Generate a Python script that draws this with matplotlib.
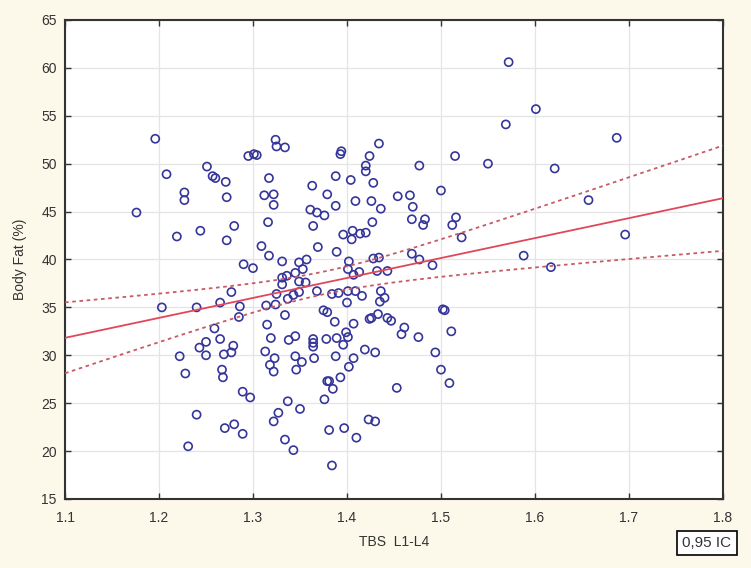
import numpy as np
import matplotlib
matplotlib.use("Agg")
import matplotlib.pyplot as plt

plt.rcParams['font.family'] = ['Liberation Sans', 'DejaVu Sans']

# TBS L1-L4 vs body fat
tbs = [
    1.196, 1.208, 1.176, 1.227, 1.227, 1.219, 1.244, 1.251, 1.257, 1.260,
    1.271, 1.272, 1.280, 1.272, 1.295, 1.301, 1.304, 1.324, 1.325, 1.334,
    1.317, 1.312, 1.322, 1.322, 1.316, 1.363, 1.361, 1.368, 1.364, 1.309,
    1.317, 1.331, 1.349, 1.357, 1.290, 1.300, 1.369, 1.572, 1.601, 1.569,
    1.621, 1.550, 1.515, 1.477, 1.500, 1.434, 1.424, 1.394, 1.393, 1.420,
    1.420, 1.388, 1.404, 1.428, 1.379, 1.388, 1.409, 1.426, 1.436, 1.454,
    1.467, 1.470, 1.376, 1.427, 1.396, 1.406, 1.405, 1.414, 1.420, 1.389,
    1.469, 1.483, 1.481, 1.516, 1.512, 1.522, 1.402, 1.428, 1.434, 1.469,
    1.477, 1.491, 1.588, 1.617, 1.687, 1.657, 1.696, 1.203, 1.240, 1.265,
    1.277, 1.286, 1.285, 1.259, 1.250, 1.265, 1.243, 1.222, 1.250, 1.269,
    1.277, 1.279, 1.228, 1.267, 1.268, 1.289, 1.297, 1.240, 1.270, 1.280,
    1.289, 1.231, 1.314, 1.325, 1.324, 1.337, 1.343, 1.349, 1.334, 1.315,
    1.319, 1.338, 1.345, 1.313, 1.323, 1.318, 1.322, 1.345, 1.352, 1.346,
    1.365, 1.364, 1.364, 1.364, 1.337, 1.327, 1.322, 1.350, 1.334, 1.343,
    1.331, 1.336, 1.331, 1.345, 1.353, 1.349, 1.356, 1.368, 1.384, 1.391,
    1.401, 1.400, 1.375, 1.379, 1.387, 1.399, 1.401, 1.407, 1.378, 1.389,
    1.396, 1.401, 1.407, 1.413, 1.432, 1.443, 1.409, 1.416, 1.436, 1.440,
    1.435, 1.424, 1.433, 1.426, 1.443, 1.447, 1.461, 1.458, 1.476, 1.502,
    1.504, 1.511, 1.419, 1.430, 1.494, 1.500, 1.509, 1.388, 1.407, 1.402,
    1.393, 1.379, 1.381, 1.385, 1.376, 1.453, 1.423, 1.430, 1.381, 1.397,
    1.410, 1.384,
]
body_fat = [
    52.6, 48.9, 44.9, 47.0, 46.2, 42.4, 43.0, 49.7, 48.7, 48.5,
    48.1, 46.5, 43.5, 42.0, 50.8, 51.0, 50.9, 52.5, 51.8, 51.7,
    48.5, 46.7, 46.8, 45.7, 43.9, 47.7, 45.2, 44.9, 43.5, 41.4,
    40.4, 39.8, 39.7, 40.0, 39.5, 39.1, 41.3, 60.6, 55.7, 54.1,
    49.5, 50.0, 50.8, 49.8, 47.2, 52.1, 50.8, 51.3, 51.0, 49.8,
    49.2, 48.7, 48.3, 48.0, 46.8, 45.6, 46.1, 46.1, 45.3, 46.6,
    46.7, 45.5, 44.6, 43.9, 42.6, 43.0, 42.1, 42.7, 42.8, 40.8,
    44.2, 44.2, 43.6, 44.4, 43.6, 42.3, 39.8, 40.1, 40.2, 40.6,
    40.0, 39.4, 40.4, 39.2, 52.7, 46.2, 42.6, 35.0, 35.0, 35.5,
    36.6, 35.1, 34.0, 32.8, 31.4, 31.7, 30.8, 29.9, 30.0, 30.1,
    30.3, 31.0, 28.1, 28.5, 27.7, 26.2, 25.6, 23.8, 22.4, 22.8,
    21.8, 20.5, 35.2, 36.4, 35.3, 35.9, 36.3, 36.6, 34.2, 33.2,
    31.8, 31.6, 32.0, 30.4, 29.7, 29.0, 28.3, 29.9, 29.3, 28.5,
    29.7, 31.7, 31.3, 30.9, 25.2, 24.0, 23.1, 24.4, 21.2, 20.1,
    38.1, 38.3, 37.4, 38.6, 39.0, 37.7, 37.6, 36.7, 36.4, 36.5,
    36.7, 35.5, 34.7, 34.5, 33.5, 32.4, 31.9, 33.3, 31.7, 31.8,
    31.1, 39.0, 38.4, 38.7, 38.8, 38.8, 36.7, 36.2, 36.7, 36.0,
    35.6, 33.8, 34.3, 33.9, 33.9, 33.6, 32.9, 32.2, 31.9, 34.8,
    34.7, 32.5, 30.6, 30.3, 30.3, 28.5, 27.1, 29.9, 29.7, 28.8,
    27.7, 27.3, 27.3, 26.5, 25.4, 26.6, 23.3, 23.1, 22.2, 22.4,
    21.4, 18.5,
]

x = np.array(tbs)
y = np.array(body_fat)

# least squares fit + 95% confidence band of the mean
slope, intercept = np.polyfit(x, y, 1)
n = len(x)
resid = y - (slope * x + intercept)
s = np.sqrt(np.sum(resid ** 2) / (n - 2))
sxx = np.sum((x - x.mean()) ** 2)
t_val = 1.972
xs = np.linspace(1.1, 1.8, 200)
fit = slope * xs + intercept
half = t_val * s * np.sqrt(1.0 / n + (xs - x.mean()) ** 2 / sxx)

bg = '#fcf8ea'
fig = plt.figure(figsize=(7.51, 5.68), dpi=100, facecolor=bg)
ax = fig.add_axes([0.0866, 0.1215, 0.876, 0.8433])
ax.set_facecolor('white')

ax.scatter(x, y, s=34, facecolors='none', edgecolors='#35359a', linewidths=1.2, zorder=3)
ax.plot(xs, fit, color='#e0485a', lw=1.3, zorder=4)
ax.plot(xs, fit + half, color='#c85a64', lw=1.3, ls=(0, (2, 2)), zorder=4)
ax.plot(xs, fit - half, color='#c85a64', lw=1.3, ls=(0, (2, 2)), zorder=4)

ax.set_xlim(1.1, 1.8)
ax.set_ylim(15, 65)
ax.set_xticks(np.arange(1.1, 1.81, 0.1))
ax.set_yticks(np.arange(15, 66, 5))
ax.set_xticklabels([f"{v:.1f}" for v in np.arange(1.1, 1.81, 0.1)])
ax.grid(True, color='#e4e4e4', lw=0.9)
ax.set_axisbelow(True)
ax.tick_params(direction='in', top=True, right=True, length=4, width=1,
               labelsize=10, colors='#333333', pad=6)
ax.tick_params(axis='x', pad=9)
for sp in ax.spines.values():
    sp.set_color('#333333')
    sp.set_linewidth(1.5)

ax.set_xlabel("TBS  L1-L4", fontsize=10, color='#333333', labelpad=7)
ax.set_ylabel("Body Fat (%)", fontsize=10, color='#333333', labelpad=10)

fig.text(0.9414, 0.044, "0,95 IC", ha='center', va='center', fontsize=11, color='#333333',
         bbox=dict(boxstyle='square,pad=0.35', facecolor='white', edgecolor='black', lw=1.2))

fig.savefig("out.png", dpi=100, facecolor=bg)
